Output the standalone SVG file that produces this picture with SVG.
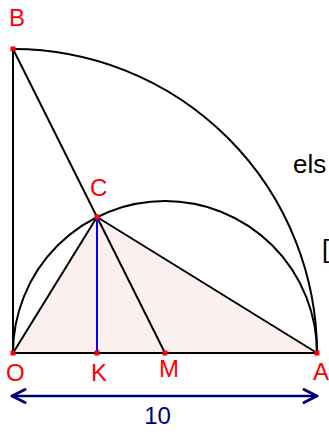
<svg xmlns="http://www.w3.org/2000/svg" width="329" height="434" viewBox="0 0 329 434">
<style>
.ln{stroke:#000;stroke-width:2;fill:none}
.lb{font-family:"Liberation Sans",Arial,sans-serif;font-size:24px;fill:#ff0000}
.pt{fill:#ff0000}
.tx{font-family:"Liberation Sans",Arial,sans-serif;font-size:26px;fill:#000}
</style>
<rect width="329" height="434" fill="#fff"/>
<g id="triangle"><polygon points="13,353 97,217 317,353" fill="#fcefef"/></g>
<g id="connectors">
<path class="ln" d="M13,49 A304,304 0 0 1 317,353"/>
<path class="ln" d="M13,353 A152,152 0 0 1 317,353"/>
<line class="ln" x1="13" y1="49" x2="13" y2="353"/>
<line class="ln" x1="13" y1="353" x2="317" y2="353"/>
<line class="ln" x1="13" y1="49" x2="165" y2="353"/>
<line class="ln" x1="13" y1="353" x2="97" y2="217"/>
<line class="ln" x1="97" y1="217" x2="317" y2="353"/>
<line x1="97" y1="217" x2="97" y2="353" stroke="#0000ff" stroke-width="2"/>
<g id="dim" stroke="#000080" fill="none" stroke-linecap="round" stroke-linejoin="round">
<line x1="14" y1="396" x2="315" y2="396" stroke-width="2.5"/>
<polyline points="25,389.5 12,396 25,402.5" stroke-width="3"/>
<polyline points="304,389.5 317,396 304,402.5" stroke-width="3"/>
</g>
</g>
<g id="points">
<rect class="pt" x="10.5" y="46.5" width="5" height="5"/>
<rect class="pt" x="10.5" y="350.5" width="5" height="5"/>
<rect class="pt" x="94.5" y="350.5" width="5" height="5"/>
<rect class="pt" x="162.5" y="350.5" width="5" height="5"/>
<rect class="pt" x="314.5" y="350.5" width="5" height="5"/>
<rect class="pt" x="94.5" y="214.5" width="5" height="5"/>
</g>
<g id="labels">
<text class="lb" x="9" y="26">B</text>
<text class="lb" x="90" y="196">C</text>
<text class="lb" x="6" y="381">O</text>
<text class="lb" x="91" y="381">K</text>
<text class="lb" x="159" y="377">M</text>
<text class="lb" x="313" y="380">A</text>
<text x="157.5" y="424" text-anchor="middle" font-family="Liberation Sans,Arial,sans-serif" font-size="24" fill="#000080">10</text>
<text class="tx" x="293" y="173">els</text>
<text class="tx" x="322" y="258" font-size="29">[</text>
</g>
</svg>
